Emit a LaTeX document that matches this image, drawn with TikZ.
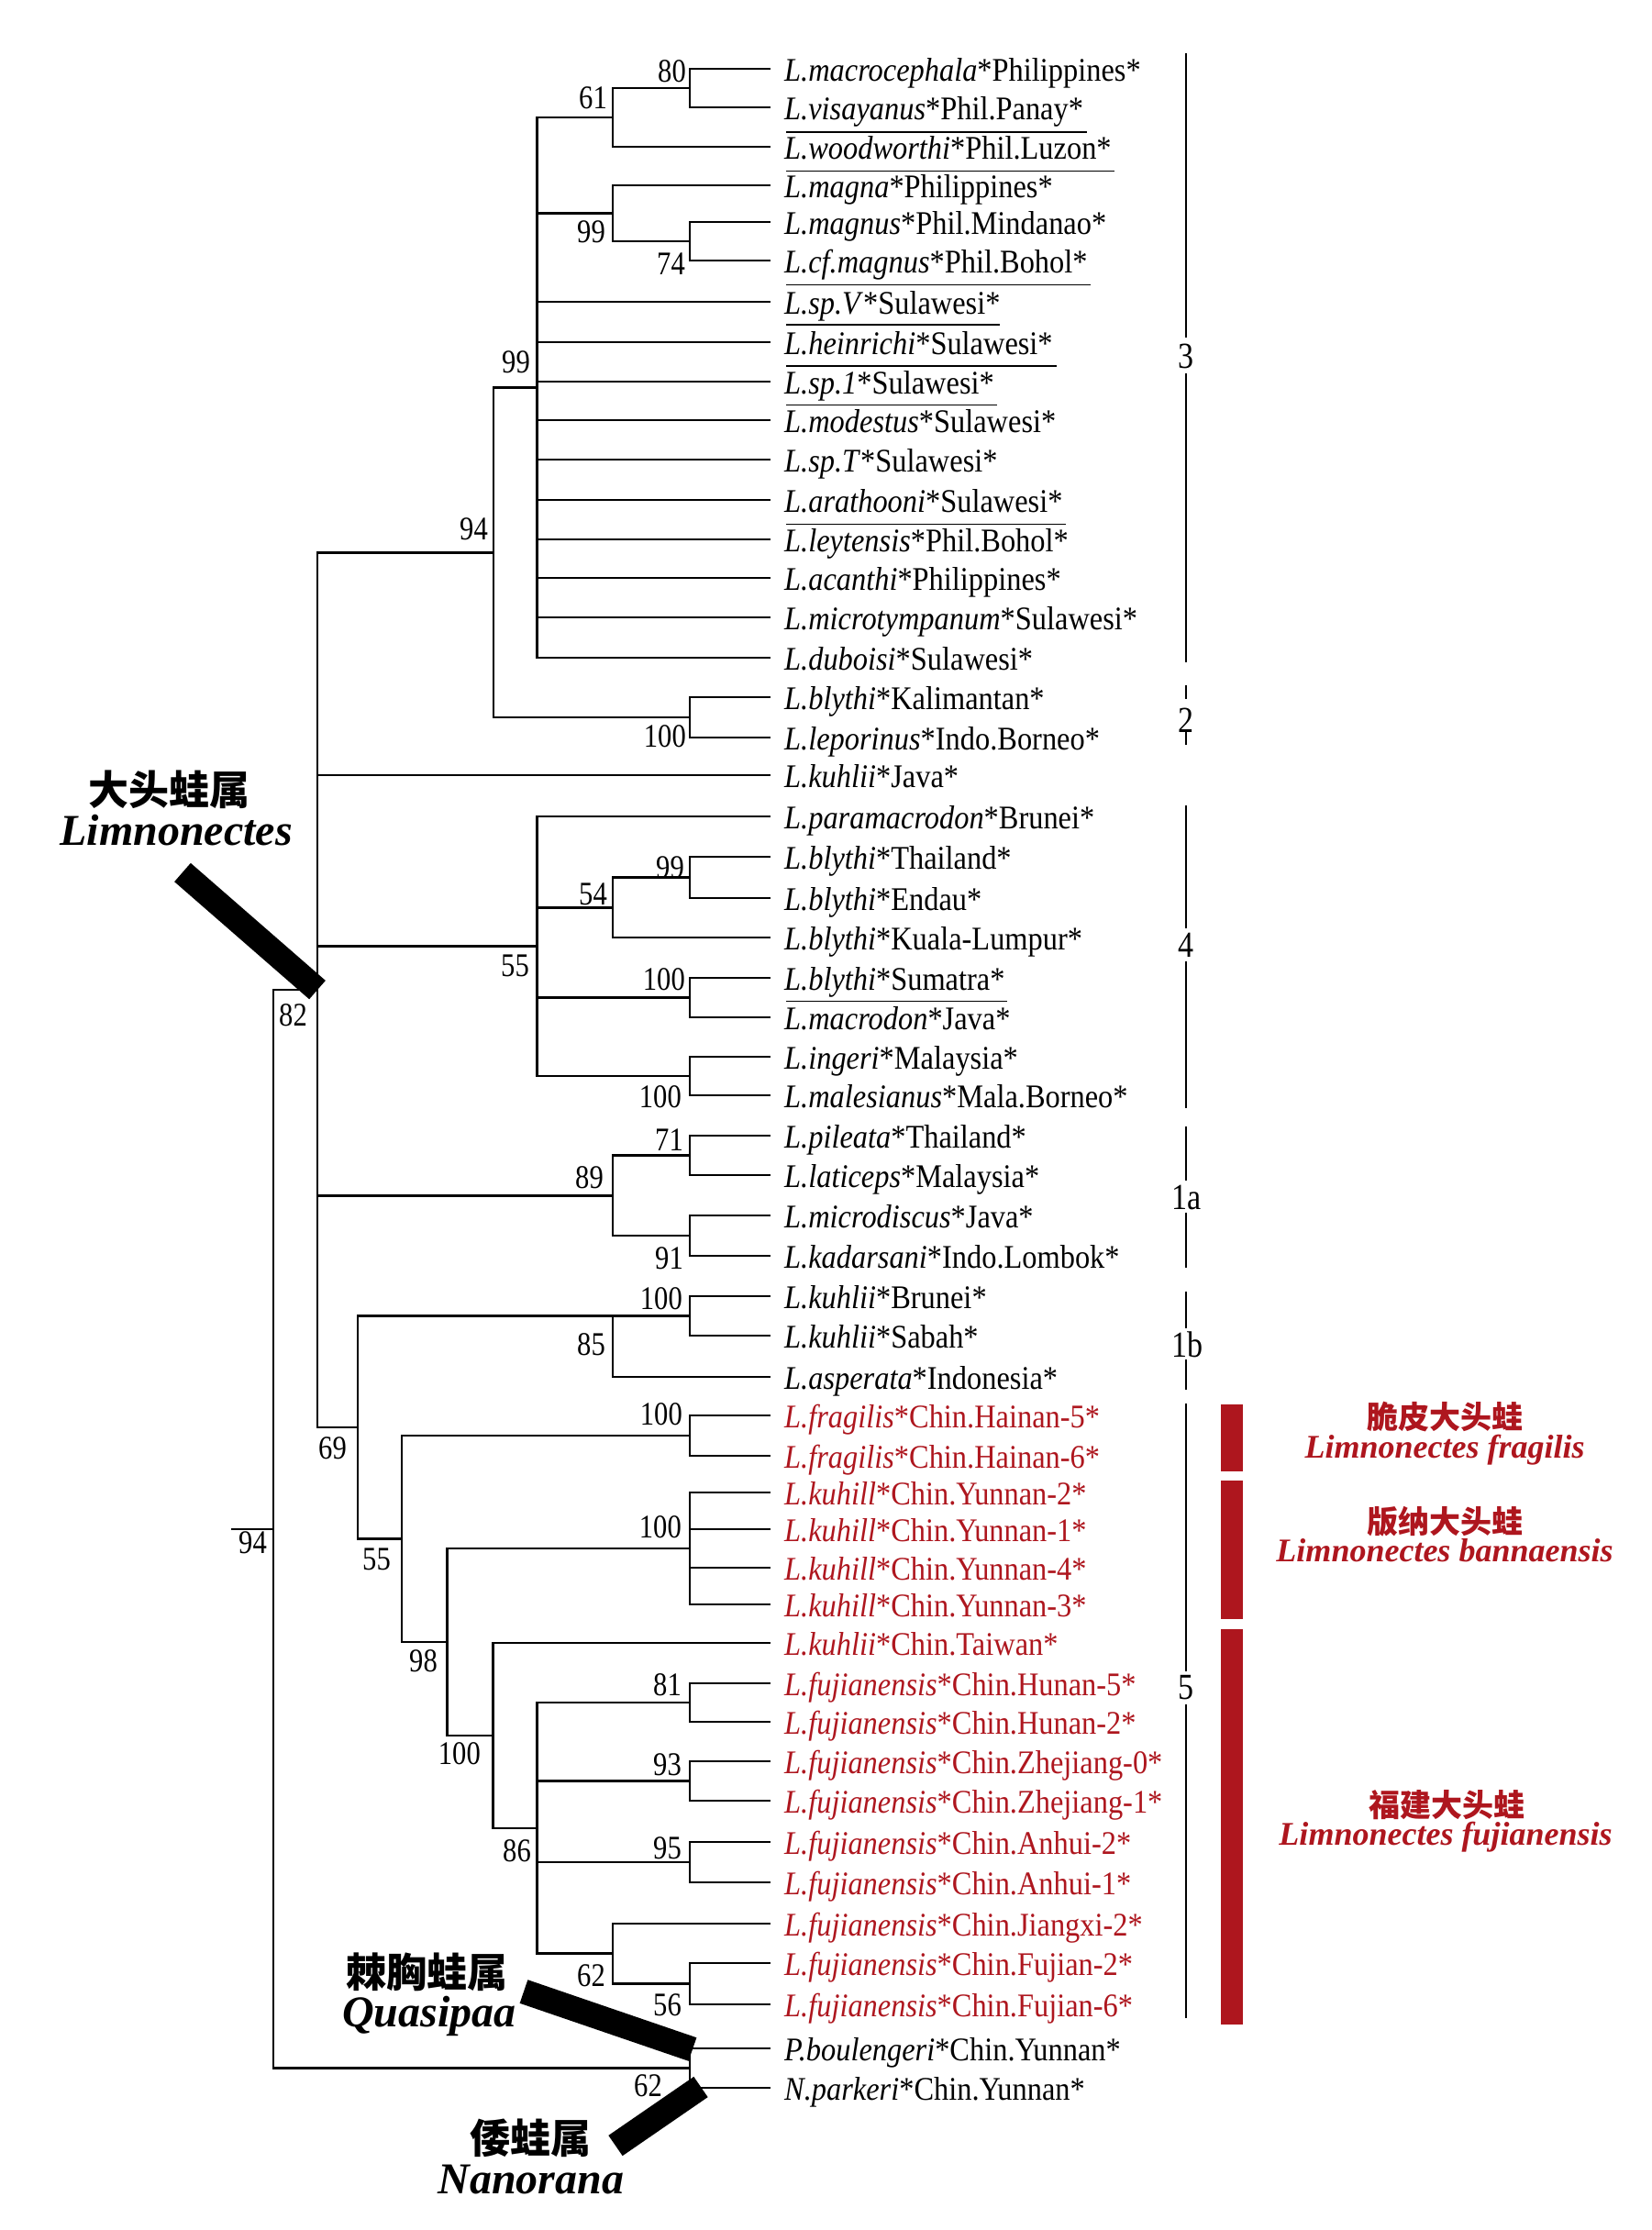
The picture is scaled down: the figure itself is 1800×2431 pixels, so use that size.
\documentclass[tikz,border=0pt]{standalone}
\usepackage{fontspec}
\setmainfont{Liberation Serif}
\newfontfamily\leaffont{Liberation Serif}[FakeStretch=0.9]
\newfontfamily\digfont{Liberation Serif}[FakeStretch=0.85]
\newfontfamily\cjk{Noto Sans CJK SC}
\definecolor{frogred}{RGB}{174,22,30}
\tikzset{
  br/.style={line width=2.6pt, line join=miter},
  leaftext/.style={anchor=base west, inner sep=0pt, font=\leaffont\fontsize{36}{40}\selectfont},
  bs/.style={anchor=base east, inner sep=0pt, font=\digfont\fontsize{36}{40}\selectfont},
  cladebar/.style={line width=1.8pt},
  cladelab/.style={inner sep=0pt, font=\digfont\fontsize{40}{44}\selectfont},
  uline/.style={line width=1.5pt},
  genbar/.style={line width=27pt, line cap=butt},
  cnlab/.style={anchor=base, inner sep=0pt, text height=36pt, text depth=2pt, font=\cjk\bfseries\fontsize{44}{50}\selectfont},
  latlab/.style={anchor=base, inner sep=0pt, text height=31pt, text depth=10pt, font=\bfseries\itshape\fontsize{48}{52}\selectfont},
  redcn/.style={anchor=base, inner sep=0pt, text height=28pt, text depth=2pt, text=frogred, font=\cjk\bfseries\fontsize{34}{40}\selectfont},
  redlat/.style={anchor=base, inner sep=0pt, text height=24pt, text depth=8pt, text=frogred, font=\bfseries\itshape\fontsize{36}{40}\selectfont},
}
\newcommand\lf[5][black]{%
  \coordinate (e#2) at (840,#3);
  \node[leaftext, text=#1] (t#2) at (855,#3+13) {\textit{#4}#5};
}
\begin{document}
\begin{tikzpicture}[x=1pt,y=-1pt]
\fill[white] (0,0) rectangle (1800,2431);
\useasboundingbox (0,0) rectangle (1800,2431);

% leaves
\lf{0}{75}{L.macrocephala}{*Philippines*}
\lf{1}{117}{L.visayanus}{*Phil.Panay*}
\lf{2}{160}{L.woodworthi}{*Phil.Luzon*}
\lf{3}{202}{L.magna}{*Philippines*}
\lf{4}{242}{L.magnus}{*Phil.Mindanao*}
\lf{5}{284}{L.cf.magnus}{*Phil.Bohol*}
\lf{6}{329}{L.sp.V}{*Sulawesi*}
\lf{7}{373}{L.heinrichi}{*Sulawesi*}
\lf{8}{416}{L.sp.1}{*Sulawesi*}
\lf{9}{458}{L.modestus}{*Sulawesi*}
\lf{10}{501}{L.sp.T}{*Sulawesi*}
\lf{11}{545}{L.arathooni}{*Sulawesi*}
\lf{12}{588}{L.leytensis}{*Phil.Bohol*}
\lf{13}{630}{L.acanthi}{*Philippines*}
\lf{14}{673}{L.microtympanum}{*Sulawesi*}
\lf{15}{717}{L.duboisi}{*Sulawesi*}
\lf{16}{760}{L.blythi}{*Kalimantan*}
\lf{17}{804}{L.leporinus}{*Indo.Borneo*}
\lf{18}{845}{L.kuhlii}{*Java*}
\lf{19}{890}{L.paramacrodon}{*Brunei*}
\lf{20}{934}{L.blythi}{*Thailand*}
\lf{21}{979}{L.blythi}{*Endau*}
\lf{22}{1022}{L.blythi}{*Kuala-Lumpur*}
\lf{23}{1066}{L.blythi}{*Sumatra*}
\lf{24}{1109}{L.macrodon}{*Java*}
\lf{25}{1152}{L.ingeri}{*Malaysia*}
\lf{26}{1194}{L.malesianus}{*Mala.Borneo*}
\lf{27}{1238}{L.pileata}{*Thailand*}
\lf{28}{1281}{L.laticeps}{*Malaysia*}
\lf{29}{1325}{L.microdiscus}{*Java*}
\lf{30}{1369}{L.kadarsani}{*Indo.Lombok*}
\lf{31}{1413}{L.kuhlii}{*Brunei*}
\lf{32}{1456}{L.kuhlii}{*Sabah*}
\lf{33}{1501}{L.asperata}{*Indonesia*}
\lf[frogred]{34}{1543}{L.fragilis}{*Chin.Hainan-5*}
\lf[frogred]{35}{1587}{L.fragilis}{*Chin.Hainan-6*}
\lf[frogred]{36}{1627}{L.kuhill}{*Chin.Yunnan-2*}
\lf[frogred]{37}{1667}{L.kuhill}{*Chin.Yunnan-1*}
\lf[frogred]{38}{1709}{L.kuhill}{*Chin.Yunnan-4*}
\lf[frogred]{39}{1749}{L.kuhill}{*Chin.Yunnan-3*}
\lf[frogred]{40}{1791}{L.kuhlii}{*Chin.Taiwan*}
\lf[frogred]{41}{1835}{L.fujianensis}{*Chin.Hunan-5*}
\lf[frogred]{42}{1877}{L.fujianensis}{*Chin.Hunan-2*}
\lf[frogred]{43}{1920}{L.fujianensis}{*Chin.Zhejiang-0*}
\lf[frogred]{44}{1963}{L.fujianensis}{*Chin.Zhejiang-1*}
\lf[frogred]{45}{2008}{L.fujianensis}{*Chin.Anhui-2*}
\lf[frogred]{46}{2052}{L.fujianensis}{*Chin.Anhui-1*}
\lf[frogred]{47}{2097}{L.fujianensis}{*Chin.Jiangxi-2*}
\lf[frogred]{48}{2140}{L.fujianensis}{*Chin.Fujian-2*}
\lf[frogred]{49}{2185}{L.fujianensis}{*Chin.Fujian-6*}
\lf{50}{2233}{P.boulengeri}{*Chin.Yunnan*}
\lf{51}{2276}{N.parkeri}{*Chin.Yunnan*}

% internal nodes
\coordinate (root) at (298,1666.8);
\coordinate (rstub) at (252,1666.8);
\coordinate (nL) at (346,1079.1);
\coordinate (n94) at (538,602.25);
\coordinate (n99big) at (585.5,422.5);
\coordinate (n61) at (668,128);
\coordinate (n80) at (752,96);
\coordinate (n99m) at (668,232.5);
\coordinate (n74) at (752,263);
\coordinate (n100bl) at (752,782);
\coordinate (n55) at (585.5,1031.5);
\coordinate (n54) at (668,989.25);
\coordinate (n99t) at (752,956.5);
\coordinate (n100sm) at (752,1087.5);
\coordinate (n100im) at (752,1173);
\coordinate (n89) at (668,1303.25);
\coordinate (n71) at (752,1259.5);
\coordinate (n91) at (752,1347);
\coordinate (n69) at (390,1556);
\coordinate (n85) at (668,1434.5);
\coordinate (n100bs) at (752,1434.5);
\coordinate (n55b) at (438,1677.45);
\coordinate (n100fr) at (752,1565);
\coordinate (n98) at (487.5,1789.9);
\coordinate (n100ku) at (752,1688);
\coordinate (n100b) at (537.5,1891.9);
\coordinate (n86) at (585.5,1992.9);
\coordinate (n81) at (752,1856);
\coordinate (n93) at (752,1941.5);
\coordinate (n95) at (752,2030);
\coordinate (n62i) at (668,2129.75);
\coordinate (n56) at (752,2162.5);
\coordinate (n62o) at (752,2254.5);

% branches
\draw[br] (root) |- (nL);
\draw[br] (root) |- (n62o);
\draw[br] (root) -- (rstub);
\foreach \c in {n94,e18,n55,n89,n69} \draw[br] (nL) |- (\c);
\foreach \c in {n99big,n100bl} \draw[br] (n94) |- (\c);
\foreach \c in {n61,n99m,e6,e7,e8,e9,e10,e11,e12,e13,e14,e15} \draw[br] (n99big) |- (\c);
\foreach \c in {n80,e2} \draw[br] (n61) |- (\c);
\foreach \c in {e0,e1} \draw[br] (n80) |- (\c);
\foreach \c in {e3,n74} \draw[br] (n99m) |- (\c);
\foreach \c in {e4,e5} \draw[br] (n74) |- (\c);
\foreach \c in {e16,e17} \draw[br] (n100bl) |- (\c);
\foreach \c in {e19,n54,n100sm,n100im} \draw[br] (n55) |- (\c);
\foreach \c in {n99t,e22} \draw[br] (n54) |- (\c);
\foreach \c in {e20,e21} \draw[br] (n99t) |- (\c);
\foreach \c in {e23,e24} \draw[br] (n100sm) |- (\c);
\foreach \c in {e25,e26} \draw[br] (n100im) |- (\c);
\foreach \c in {n71,n91} \draw[br] (n89) |- (\c);
\foreach \c in {e27,e28} \draw[br] (n71) |- (\c);
\foreach \c in {e29,e30} \draw[br] (n91) |- (\c);
\foreach \c in {n85,n55b} \draw[br] (n69) |- (\c);
\draw[br] (n85) -- (n100bs);
\draw[br] (n85) |- (e33);
\foreach \c in {e31,e32} \draw[br] (n100bs) |- (\c);
\foreach \c in {n100fr,n98} \draw[br] (n55b) |- (\c);
\foreach \c in {e34,e35} \draw[br] (n100fr) |- (\c);
\foreach \c in {n100ku,n100b} \draw[br] (n98) |- (\c);
\foreach \c in {e36,e37,e38,e39} \draw[br] (n100ku) |- (\c);
\foreach \c in {e40,n86} \draw[br] (n100b) |- (\c);
\foreach \c in {n81,n93,n95,n62i} \draw[br] (n86) |- (\c);
\foreach \c in {e41,e42} \draw[br] (n81) |- (\c);
\foreach \c in {e43,e44} \draw[br] (n93) |- (\c);
\foreach \c in {e45,e46} \draw[br] (n95) |- (\c);
\foreach \c in {e47,n56} \draw[br] (n62i) |- (\c);
\foreach \c in {e48,e49} \draw[br] (n56) |- (\c);
\foreach \c in {e50,e51} \draw[br] (n62o) |- (\c);

% bootstrap values
\node[bs] (b80) at (748,77+12) {80};
\node[bs] (b61) at (662,106+12) {61};
\node[bs] (b99m) at (660,252+12) {99};
\node[bs] (b74) at (747,287+12) {74};
\node[bs] (b99big) at (578,394+12) {99};
\node[bs] (b94) at (532,576+12) {94};
\node[bs] (b100bl) at (748,802+12) {100};
\node[bs] (b99t) at (746,945+12) {99};
\node[bs] (b54) at (662,974+12) {54};
\node[bs] (b55) at (577,1052+12) {55};
\node[bs] (b100sm) at (747,1067+12) {100};
\node[bs] (b100im) at (743,1195+12) {100};
\node[bs] (b82) at (335,1106+12) {82};
\node[bs] (b71) at (745,1242+12) {71};
\node[bs] (b89) at (658,1283+12) {89};
\node[bs] (b91) at (745,1371+12) {91};
\node[bs] (b100bs) at (744,1415+12) {100};
\node[bs] (b85) at (660,1465+12) {85};
\node[bs] (b100fr) at (744,1541+12) {100};
\node[bs] (b69) at (378,1578+12) {69};
\node[bs] (b94r) at (291,1681+12) {94};
\node[bs] (b100ku) at (743,1664+12) {100};
\node[bs] (b55b) at (426,1699+12) {55};
\node[bs] (b98) at (477,1810+12) {98};
\node[bs] (b100b) at (524,1911+12) {100};
\node[bs] (b81) at (743,1836+12) {81};
\node[bs] (b93) at (743,1923+12) {93};
\node[bs] (b86) at (579,2017+12) {86};
\node[bs] (b95) at (743,2014+12) {95};
\node[bs] (b62i) at (660,2153+12) {62};
\node[bs] (b56) at (743,2185+12) {56};
\node[bs] (b62o) at (722,2273+12) {62};

% stray rules under some names
\draw[uline] (857,144) -- (1185,144);
\draw[uline] (857,186.7) -- (1215,186.7);
\draw[uline] (857,310.7) -- (1189,310.7);
\draw[uline] (857,354) -- (1090,354);
\draw[uline] (857,399) -- (1152,399);
\draw[uline] (857,441.7) -- (1087,441.7);
\draw[uline] (857,571.7) -- (1162,571.7);
\draw[uline] (857,1091.7) -- (1098,1091.7);

% clade bars
\draw[cladebar] (1293,58) -- (1293,368);
\node[cladelab] (c3) at (1293,388) {3};
\draw[cladebar] (1293,407) -- (1293,722);
\draw[cladebar] (1293,747) -- (1293,762);
\node[cladelab] (c2) at (1293,785) {2};
\draw[cladebar] (1293,798) -- (1293,812);
\draw[cladebar] (1293,878) -- (1293,1012);
\node[cladelab] (c4) at (1293,1030) {4};
\draw[cladebar] (1293,1048) -- (1293,1208);
\draw[cladebar] (1293,1228) -- (1293,1287);
\node[cladelab] (c1a) at (1294,1305) {1a};
\draw[cladebar] (1293,1322) -- (1293,1382);
\draw[cladebar] (1293,1408) -- (1293,1448);
\node[cladelab] (c1b) at (1294,1466) {1b};
\draw[cladebar] (1293,1482) -- (1293,1515);
\draw[cladebar] (1293,1530) -- (1293,1822);
\node[cladelab] (c5) at (1293,1840) {5};
\draw[cladebar] (1293,1858) -- (1293,2200);

% red species bars
\fill[frogred] (1331,1531) rectangle (1355,1604);
\fill[frogred] (1331,1614) rectangle (1355,1765);
\fill[frogred] (1331,1776) rectangle (1355,2207);
\node[redcn] (cnfr) at (1575,1557) {脆皮大头蛙};
\node[redlat] (latfr) at (1575,1589) {Limnonectes fragilis};
\node[redcn] (cnba) at (1575,1671) {版纳大头蛙};
\node[redlat] (latba) at (1575,1702) {Limnonectes bannaensis};
\node[redcn] (cnfu) at (1577,1980) {福建大头蛙};
\node[redlat] (latfu) at (1576,2011) {Limnonectes fujianensis};

% genus bars and labels
\coordinate (limA) at (199,951);
\draw[genbar] (limA) -- (nL);
\coordinate (quaA) at (571,2171);
\coordinate (quaB) at (755,2234);
\draw[genbar] (quaA) -- (quaB);
\coordinate (nanA) at (671,2339);
\coordinate (nanB) at (764,2275);
\draw[genbar] (nanA) -- (nanB);
\node[cnlab] (cnL) at (184.5,877) {大头蛙属};
\node[latlab] (latL) at (192,921) {Limnonectes};
\node[cnlab] (cnQ) at (465,2166) {棘胸蛙属};
\node[latlab] (latQ) at (468,2209) {Quasipaa};
\node[cnlab] (cnN) at (578,2347) {倭蛙属};
\node[latlab] (latN) at (579,2391) {Nanorana};
\end{tikzpicture}
\end{document}
